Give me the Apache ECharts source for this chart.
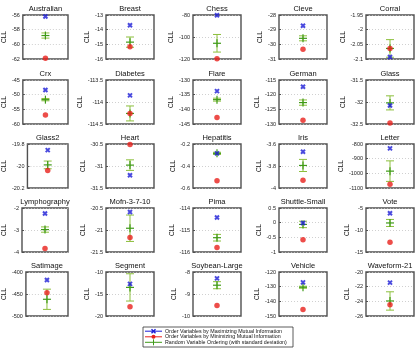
<!DOCTYPE html>
<html>
<head>
<meta charset="utf-8">
<script src="https://cdn.jsdelivr.net/npm/echarts@6/dist/echarts.min.js"></script>
<style>
  html, body { margin: 0; background: #fff; }
  #chart { width: 417px; height: 353px; }
</style>
</head>
<body>
<div id="chart"></div>
<script>
// datasets (one small panel each)
const names = ['Australian', 'Breast', 'Chess', 'Cleve', 'Corral',
  'Crx', 'Diabetes', 'Flare', 'German', 'Glass',
  'Glass2', 'Heart', 'Hepatitis', 'Iris', 'Letter',
  'Lymphography', 'Mofn-3-7-10', 'Pima', 'Shuttle-Small', 'Vote',
  'Satimage', 'Segment', 'Soybean-Large', 'Vehicle', 'Waveform-21']

// y axis ranges / tick steps
const yMin = [-62, -16, -120, -31, -2.1, -60, -114.5, -145, -130, -32.5, -20.2, -31.5, -0.6, -4, -1100, -4, -21.5, -116, -1, -15, -500, -20, -10, -150, -26]
const yMax = [-56, -13, -80, -28, -1.95, -45, -113.5, -130, -115, -31.5, -19.8, -30.5, -0.2, -3.6, -800, -2, -20.5, -114, 0.5, -5, -400, -10, -8, -120, -20]
const yStep = [2, 1, 20, 1, 0.05, 5, 0.5, 5, 5, 0.5, 0.2, 0.5, 0.2, 0.2, 100, 1, 0.5, 1, 0.5, 5, 50, 5, 1, 10, 2]

// CLL values
const maxMI = [-56.2, -13.7, -80.3, -28.73, -2.093, -48.4, -113.85, -133.8, -117.3, -32.08, -19.856, -31.21, -0.285, -3.67, -830, -2.25, -20.59, -114.43, -0.01, -6.2, -418, -12.7, -8.29, -127.1, -21.45]
const minMI = [-61.9, -15.16, -119.7, -30.34, -2.064, -56.9, -114.26, -142.8, -128.7, -32.48, -20.04, -30.51, -0.535, -3.93, -1074, -3.84, -21.17, -115.8, -0.58, -12.8, -447, -17.9, -9.52, -145.5, -24.45]
const randMean = [-58.8, -14.85, -105.7, -29.59, -2.064, -51.7, -114.26, -136.7, -122.7, -32.02, -19.99, -30.98, -0.285, -3.795, -985, -2.98, -20.96, -115.35, -0.06, -8.4, -462, -13.5, -8.6, -130.4, -23.95]
const randStd = [0.35, 0.35, 8, 0.17, 0.03, 0.4, 0.17, 0.5, 0.9, 0.16, 0.035, 0.12, 0.01, 0.055, 70, 0.12, 0.3, 0.15, 0.11, 0.8, 23, 3.1, 0.16, 0.7, 1.25]

const legendNames = [
  'Order Variables by Maximizing Mutual Information',
  'Order Variables by Minimizing Mutual Information',
  'Random Variable Ordering (with standard deviation)'
]

const BLUE = '#1c1cd6'
const RED = '#e8201c'
const GREEN = '#3f9a18'
const BAR = '#8cbf3c'
const FONT = 'Liberation Sans, Arial, sans-serif'

const colLeft = [20, 106, 193, 279, 366]
const rowTop = [15, 80, 144, 208, 272]
const W = 48
const H = 44

const crossPath = 'path://M0,0L10,10M10,0L0,10'

// matlab-like tick text, no thousands separator
const tickText = v => String(parseFloat(v.toPrecision(10)))

function renderRandom(params, api) {
  const x = api.value(0)
  const m = api.value(1)
  const s = api.value(2)
  const c = api.coord([x, m])
  const top = api.coord([x, m + s])[1]
  const bot = api.coord([x, m - s])[1]
  const bar = { stroke: BAR, lineWidth: 1 }
  const mk = { stroke: GREEN, lineWidth: 1.2 }
  return {
    type: 'group',
    children: [
      { type: 'line', shape: { x1: c[0], y1: top, x2: c[0], y2: bot }, style: bar },
      { type: 'line', shape: { x1: c[0] - 4, y1: top, x2: c[0] + 4, y2: top }, style: bar },
      { type: 'line', shape: { x1: c[0] - 4, y1: bot, x2: c[0] + 4, y2: bot }, style: bar },
      { type: 'line', shape: { x1: c[0] - 4, y1: c[1], x2: c[0] + 4, y2: c[1] }, style: mk },
      { type: 'line', shape: { x1: c[0], y1: c[1] - 4, x2: c[0], y2: c[1] + 4 }, style: mk }
    ]
  }
}

const grid = [], xAxis = [], yAxis = [], series = []
names.forEach((name, i) => {
  const r = Math.floor(i / 5), c = i % 5
  grid.push({
    left: colLeft[c], top: rowTop[r], width: W, height: H,
    show: true, borderColor: '#505050', borderWidth: 1.4, backgroundColor: '#fff'
  })
  xAxis.push({
    gridIndex: i, type: 'value', min: 0, max: 2, position: 'top',
    name: name, nameLocation: 'middle', nameGap: 2,
    nameTextStyle: { fontSize: 7.5, color: '#111', fontFamily: FONT },
    axisLine: { show: false }, axisTick: { show: false },
    axisLabel: { show: false }, splitLine: { show: false }
  })
  yAxis.push({
    gridIndex: i, type: 'value', min: yMin[i], max: yMax[i], interval: yStep[i],
    name: 'CLL', nameLocation: 'middle', nameGap: 14,
    nameTextStyle: { fontSize: 6.5, color: '#111', fontFamily: FONT },
    axisLine: { show: false },
    axisTick: { show: true, inside: true, length: 2, lineStyle: { color: '#505050' } },
    axisLabel: { fontSize: 5.5, color: '#222', margin: 3, fontFamily: FONT, formatter: tickText },
    splitLine: { lineStyle: { color: '#c4c4c4', type: [1, 2], width: 0.8 } }
  })
  series.push({
    name: legendNames[0], type: 'scatter', xAxisIndex: i, yAxisIndex: i,
    data: [[1, maxMI[i]]], symbol: crossPath, symbolSize: 4, clip: false,
    itemStyle: { color: 'none', borderColor: BLUE, borderWidth: 2 }
  })
  series.push({
    name: legendNames[1], type: 'scatter', xAxisIndex: i, yAxisIndex: i,
    data: [[1, minMI[i]]], symbol: 'circle', symbolSize: 5.5, clip: false,
    itemStyle: { color: RED }
  })
  series.push({
    name: legendNames[2], type: 'custom', xAxisIndex: i, yAxisIndex: i,
    data: [[1, randMean[i], randStd[i]]], renderItem: renderRandom
  })
})

// legend box (drawn by hand, matlab style)
const lgX = 143, lgY = 327, lgRows = [331.2, 336.8, 342.3]
const legendGraphics = [
  { type: 'rect', shape: { x: lgX, y: lgY, width: 150, height: 20 }, style: { fill: '#fff', stroke: '#333', lineWidth: 0.8 } }
]
lgRows.forEach((y, k) => {
  const col = [BLUE, RED, GREEN][k]
  const mx = lgX + 10.5
  legendGraphics.push({ type: 'line', shape: { x1: lgX + 2, y1: y, x2: lgX + 19, y2: y }, style: { stroke: col, lineWidth: 1 } })
  if (k === 0) {
    legendGraphics.push({ type: 'line', shape: { x1: mx - 2, y1: y - 2, x2: mx + 2, y2: y + 2 }, style: { stroke: col, lineWidth: 1.4 } })
    legendGraphics.push({ type: 'line', shape: { x1: mx - 2, y1: y + 2, x2: mx + 2, y2: y - 2 }, style: { stroke: col, lineWidth: 1.4 } })
  } else if (k === 1) {
    legendGraphics.push({ type: 'circle', shape: { cx: mx, cy: y, r: 2 }, style: { fill: col } })
  } else {
    legendGraphics.push({ type: 'line', shape: { x1: mx, y1: y - 3, x2: mx, y2: y + 3 }, style: { stroke: col, lineWidth: 1 } })
  }
  legendGraphics.push({
    type: 'text', x: lgX + 22, y: y,
    style: { text: legendNames[k], fontSize: 5.3, fill: '#111', fontFamily: FONT, verticalAlign: 'middle', align: 'left' }
  })
})

const chart = echarts.init(document.getElementById('chart'))
chart.setOption({
  backgroundColor: '#fff',
  animation: false,
  grid, xAxis, yAxis, series,
  graphic: legendGraphics
})
</script>
</body>
</html>
